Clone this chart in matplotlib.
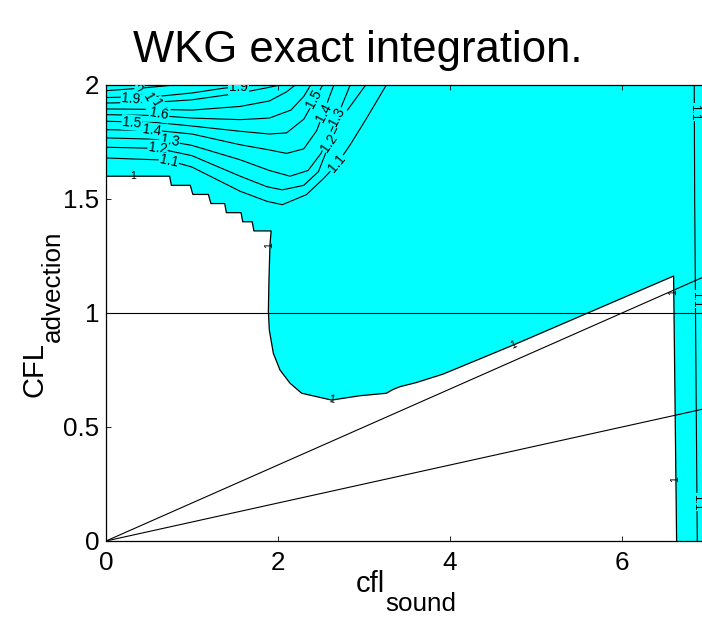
import matplotlib
matplotlib.use("Agg")
import matplotlib.pyplot as plt
import numpy as np

plt.rcParams['font.family'] = ['Liberation Sans', 'DejaVu Sans']

# ---------------- data ----------------
# boundary of the stable (white) region = contour level 1
bnd_x = [0.0, 0.74, 0.76, 0.98, 1.01, 1.19, 1.22, 1.38, 1.40, 1.57, 1.59, 1.70, 1.72, 1.92,
         1.907, 1.895, 1.888, 1.899, 1.946, 2.023, 2.14, 2.275, 2.45, 2.624, 2.76, 2.95,
         3.26, 3.34, 3.42, 3.61, 3.92, 4.74, 6.60, 6.635]
bnd_y = [1.60, 1.60, 1.56, 1.56, 1.52, 1.52, 1.48, 1.48, 1.44, 1.44, 1.40, 1.40, 1.36, 1.36,
         1.30, 1.15, 1.006, 0.925, 0.823, 0.75, 0.692, 0.648, 0.633, 0.618, 0.626, 0.637,
         0.648, 0.665, 0.677, 0.695, 0.732, 0.86, 1.162, 0.0]

# contour lines (level -> x, y)
c20_x = [0.0, 0.37, 0.8];                 c20_y = [1.975, 1.985, 2.0]
c19_x = [0.0, 0.6, 1.0, 1.35, 1.7];       c19_y = [1.945, 1.95, 1.965, 1.985, 2.0]
c18_x = [0.0, 0.6, 1.0, 1.56, 1.9, 2.02]; c18_y = [1.921, 1.925, 1.935, 1.965, 1.99, 2.0]
c17_x = [0.0, 0.6, 1.0, 1.56, 1.9, 2.1, 2.2]
c17_y = [1.895, 1.893, 1.89, 1.906, 1.93, 1.97, 2.0]
c16_x = [0.0, 0.6, 1.0, 1.56, 1.9, 2.15, 2.3, 2.38]
c16_y = [1.870, 1.866, 1.855, 1.848, 1.855, 1.89, 1.95, 2.0]
c15_x = [0.0, 0.6, 1.0, 1.56, 1.9, 2.1, 2.3, 2.42, 2.52]
c15_y = [1.841, 1.835, 1.82, 1.797, 1.785, 1.79, 1.85, 1.93, 2.0]
c14_x = [0.0, 0.6, 1.0, 1.56, 1.9, 2.1, 2.3, 2.45, 2.55, 2.65]
c14_y = [1.804, 1.80, 1.785, 1.738, 1.715, 1.70, 1.72, 1.80, 1.90, 2.0]
c13_x = [0.0, 0.6, 1.0, 1.56, 1.9, 2.14, 2.35, 2.5, 2.62, 2.72, 2.84]
c13_y = [1.768, 1.762, 1.735, 1.672, 1.625, 1.60, 1.625, 1.70, 1.80, 1.89, 2.0]
c12_x = [0.0, 0.6, 1.0, 1.56, 1.87, 2.05, 2.3, 2.47, 2.6, 2.75, 3.02]
c12_y = [1.727, 1.722, 1.69, 1.60, 1.554, 1.54, 1.56, 1.62, 1.745, 1.86, 2.0]
c11_x = [0.0, 0.72, 1.0, 1.56, 1.87, 2.05, 2.33, 2.53, 2.68, 2.84, 3.03, 3.26]
c11_y = [1.68, 1.67, 1.64, 1.534, 1.49, 1.475, 1.519, 1.59, 1.65, 1.738, 1.854, 2.0]
c11r_x = [6.84, 6.845, 6.855, 6.865, 6.875]; c11r_y = [2.0, 1.5, 1.0, 0.5, 0.0]

# contour labels: text, x, y, rotation
lab_txt = ["2", "1.9", "1.8", "1.7", "1.6", "1.5", "1.4", "1.3", "1.2", "1.1",
           "1.9", "1.5", "1.4", "1.3", "1.2", "1.1", "1.1", "1.1", "1.1"]
lab_x = [0.38, 0.29, 0.52, 0.62, 0.62, 0.30, 0.53, 0.74, 0.60, 0.73,
         1.54, 2.42, 2.53, 2.69, 2.60, 2.69, 6.843, 6.856, 6.872]
lab_y = [1.978, 1.94, 1.925, 1.90, 1.872, 1.835, 1.80, 1.755, 1.72, 1.665,
         1.99, 1.94, 1.88, 1.86, 1.745, 1.655, 1.88, 1.06, 0.17]
lab_rot = [-15, -5, -60, -60, -10, -5, -8, -10, -8, -12,
           0, 62, 62, 62, 55, 50, -90, -90, -90]
lab_size = [9.8] * 16 + [8.5] * 3

one_x = [0.31, 1.90, 2.62, 4.74, 6.60, 6.62]
one_y = [1.60, 1.30, 0.62, 0.86, 1.09, 0.27]
one_rot = [0, 90, -10, 25, 90, 90]

# reference lines
ray_slopes = [1 / 6, 1 / 12]
hline_y = 1.0

xticks = [0, 2, 4, 6]
yticks = [0, 0.5, 1, 1.5, 2]
ytick_labels = ["0", "0.5", "1", "1.5", "2"]

# ---------------- figure ----------------
W, H = 702, 622
fig = plt.figure(figsize=(W / 100, H / 100), dpi=100)
ax = fig.add_axes([106 / W, (H - 541) / H, 602 / W, 456 / H])
ax.set_xlim(0, 7)
ax.set_ylim(0, 2)
ax.set_facecolor('#00FFFF')

px = [0.0] + bnd_x + [0.0]
py = [0.0] + bnd_y + [0.0]
ax.fill(px, py, color='white', lw=0, zorder=1)
ax.plot(bnd_x, bnd_y, color='black', lw=0.9, zorder=3)

for cx, cy in [(c20_x, c20_y), (c19_x, c19_y), (c18_x, c18_y), (c17_x, c17_y),
               (c16_x, c16_y), (c15_x, c15_y), (c14_x, c14_y), (c13_x, c13_y),
               (c12_x, c12_y), (c11_x, c11_y), (c11r_x, c11r_y)]:
    ax.plot(cx, cy, color='black', lw=0.8, zorder=3)

xx = np.array([0, 7.0])
for s in ray_slopes:
    ax.plot(xx, s * xx, color='black', lw=0.8, zorder=4)
ax.axhline(hline_y, color='black', lw=0.8, zorder=4)

for t, x, y, r, fs in zip(lab_txt, lab_x, lab_y, lab_rot, lab_size):
    ax.text(x, y, t, fontsize=fs, rotation=r, ha='center', va='center', zorder=5,
            bbox=dict(fc='#00FFFF', ec='none', pad=0.6), clip_on=True)
for x, y, r in zip(one_x, one_y, one_rot):
    ax.text(x, y, "1", fontsize=7.5, rotation=r, ha='center', va='center', zorder=5)

ax.set_xticks(xticks)
ax.set_xticklabels([str(v) for v in xticks])
ax.set_yticks(yticks)
ax.set_yticklabels(ytick_labels)
ax.tick_params(direction='in', length=3.6, width=0.6, top=True, right=True,
               labelsize=18.7, pad=5)
ax.tick_params(axis='x', pad=7)
for sp in ax.spines.values():
    sp.set_linewidth(0.9)

# title
fig.text(358 / W, 1 - 62 / H, "WKG exact integration.", fontsize=31.4,
         ha='center', va='baseline')

fig.canvas.draw()
rend = fig.canvas.get_renderer()

# x label: cfl_sound
t1 = fig.text(356 / W, 1 - 592 / H, "cfl", fontsize=21, ha='left', va='baseline')
w1 = t1.get_window_extent(rend).width
fig.text((356 + w1) / W, 1 - 611 / H, "sound", fontsize=18.7, ha='left', va='baseline')

# y label: CFL_advection
t2 = fig.text(42 / W, 1 - 397 / H, "CFL", fontsize=21, rotation=90,
              rotation_mode='anchor', ha='left', va='baseline')
h2 = t2.get_window_extent(rend).height
fig.text(60 / W, (H - 397 + h2) / H, "advection", fontsize=18.7, rotation=90,
         rotation_mode='anchor', ha='left', va='baseline')

fig.savefig("out.png", dpi=100)
